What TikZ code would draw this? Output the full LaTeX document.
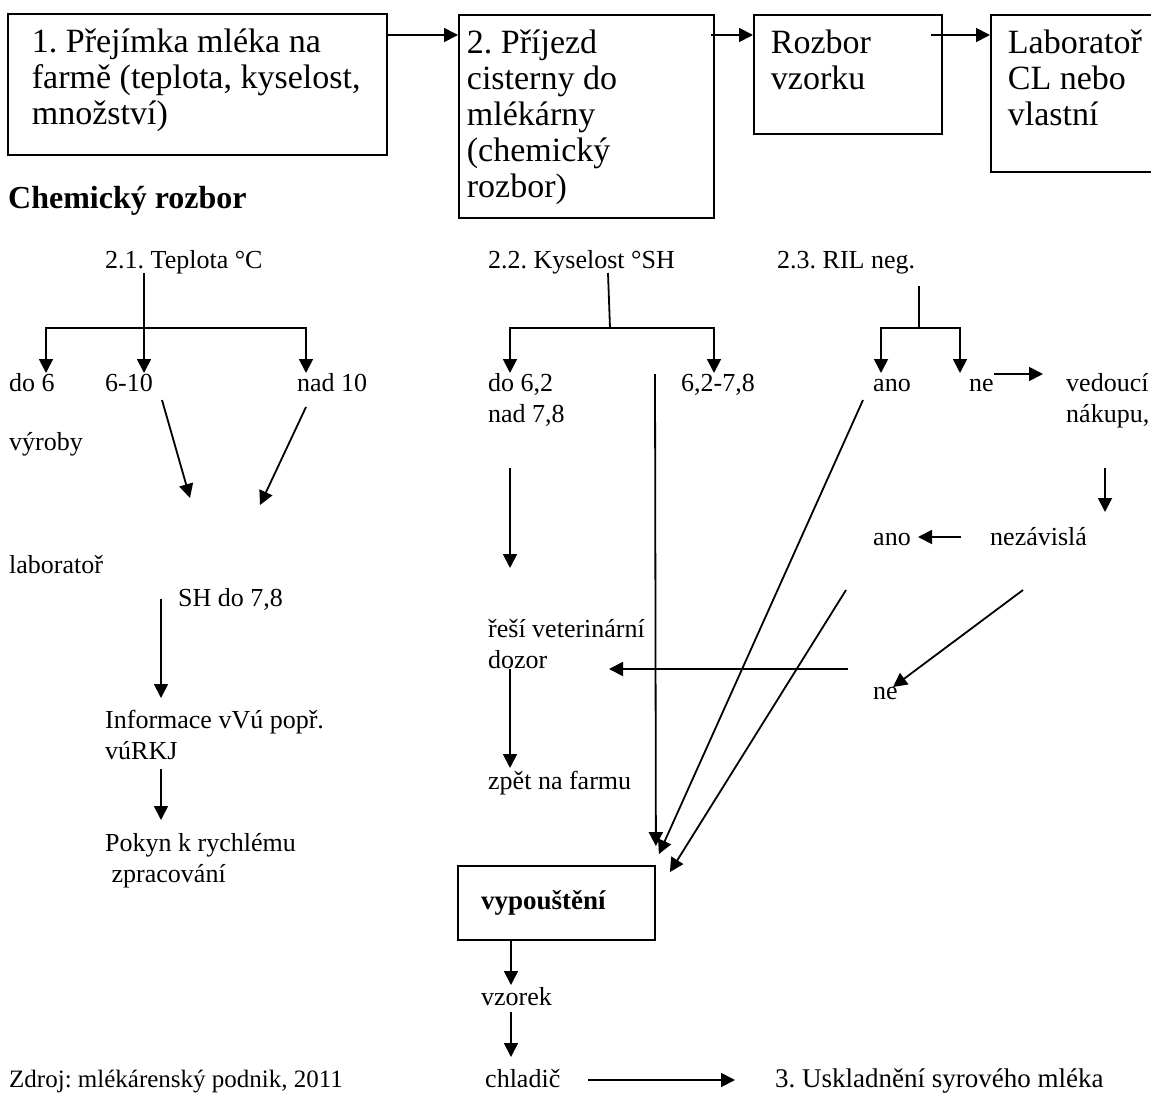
\documentclass[tikz,border=0pt]{standalone}
\usepackage{fontspec}
\setmainfont{Liberation Serif}
\frenchspacing
\usetikzlibrary{arrows.meta, positioning, calc}

\begin{document}
\begin{tikzpicture}[
    x=1pt, y=-1pt,
    box/.style={rectangle, draw, line width=1.8pt, anchor=north west, inner xsep=8pt, inner ysep=15pt, font=\fontsize{34}{36}\selectfont},
    txt/.style={anchor=base west, inner sep=0pt, align=left, font=\fontsize{26}{31}\selectfont},
    arr/.style={-{Triangle[length=14pt, width=14pt]}, line width=1.8pt},
    ln/.style={line width=1.8pt},
  ]
    \useasboundingbox (0,0) rectangle (1151,1100);

    \node[box, inner xsep=24pt] (prejimka) at (7,13) {\parbox[t][111pt][t]{331pt}{\raggedright 1. Přejímka mléka na\\farmě (teplota, kyselost,\\množství)}};
    \node[box] (prijezd) at (458,14) {\parbox[t][173pt][t]{239pt}{\raggedright 2. Příjezd\\cisterny do\\mlékárny\\(chemický\\rozbor)}};
    \node[box, inner xsep=17pt] (rozbor) at (753,14) {\parbox[t][89pt][t]{154pt}{\raggedright Rozbor\\vzorku}};
    \node[box, inner xsep=17pt] (lab) at (990,14) {\parbox[t][127pt][t]{146pt}{\raggedright Laboratoř\\CL nebo\\vlastní}};
    \draw[arr] ([yshift=-22pt]prejimka.north east) -- ([yshift=-21pt]prijezd.north west);
    \draw[arr] ([xshift=-4pt, yshift=-21pt]prijezd.north east) -- ([yshift=-21pt]rozbor.north west);
    \draw[arr] ([xshift=-12pt, yshift=-21pt]rozbor.north east) -- ([yshift=-21pt]lab.north west);

    \node[txt, font=\fontsize{32}{36}\selectfont\bfseries] (chem) at (8,208) {Chemický rozbor};

    % teplota
    \node[txt] (teplota) at (105,268) {2.1. Teplota °C};
    \node[txt] (do6) at (9,391) {do 6};
    \node[txt] (t610) at (105,391) {6-10};
    \node[txt] (nad10) at (297,391) {nad 10};
    \node[txt] (vyroby) at (9,450) {výroby};
    \node[txt] (labor) at (9,573) {laboratoř};
    \node[txt] (sh78) at (178,606) {SH do 7,8};
    \node[txt] (info) at (105,759) {Informace vVú popř.\\vúRKJ};
    \node[txt] (pokyn) at (105,882) {Pokyn k rychlému\\~zpracování};
    \coordinate (tTop) at (144,273);
    \coordinate (tBar) at (144,328);
    \draw[arr] (tTop) -- (144,373) coordinate (tB);
    \draw[arr] (tBar) -| (46,373) coordinate (tA);
    \draw[arr] (tBar) -| (306,373) coordinate (tC);
    \draw[arr] (162,400) coordinate (d1s) -- (190,498) coordinate (d1e);
    \draw[arr] (306,407) coordinate (d2s) -- (260,505) coordinate (d2e);
    \draw[arr] (161,599) coordinate (sh1) -- (161,698) coordinate (sh2);
    \draw[arr] (161,769) coordinate (inf1) -- (161,820) coordinate (inf2);

    % kyselost
    \node[txt] (kyselost) at (488,268) {2.2. Kyselost °SH};
    \node[txt] (do62) at (488,422) {do 6,2\\nad 7,8};
    \node[txt] (k6278) at (681,391) {6,2-7,8};
    \node[txt] (resi) at (488,668) {řeší veterinární\\dozor};
    \node[txt] (zpet) at (488,789) {zpět na farmu};
    \node[rectangle, draw, line width=1.8pt, minimum height=74pt, inner xsep=23pt, text width=151pt, align=left, font=\fontsize{27}{31}\selectfont\bfseries] (vyp) at (556.5,903) {vypouštění};
    \coordinate (kTop) at (608,273);
    \coordinate (kBar) at (610,328);
    \draw[ln] (kTop) -- (kBar);
    \draw[arr] (kBar) -| (510,373) coordinate (kA);
    \draw[arr] (kBar) -| (714,373) coordinate (kB);
    \draw[arr] (655,374) coordinate (kLong) -- ([yshift=19pt]vyp.north east);
    \draw[arr] (510,468) coordinate (kv1) -- (510,568) coordinate (kv2);
    \draw[arr] (510,669) coordinate (kv3) -- (510,768) coordinate (kv4);
    \draw[arr] (848,669) coordinate (neVet) -- (609,669) coordinate (vet);

    % RIL
    \node[txt] (ril) at (777,268) {2.3. RIL neg.};
    \node[txt] (ano1) at (873,391) {ano};
    \node[txt] (ne1) at (969,391) {ne};
    \node[txt] (vedouci) at (1066,422) {vedoucí\\nákupu,};
    \node[txt] (nezav) at (990,545) {nezávislá};
    \node[txt] (ano2) at (873,545) {ano};
    \node[txt] (ne2) at (873,699) {ne};
    \coordinate (rTop) at (919,286);
    \coordinate (rBar) at (919,328);
    \draw[ln] (rTop) -- (rBar);
    \draw[arr] (rBar) -| (881,373) coordinate (rA);
    \draw[arr] (rBar) -| (960,373) coordinate (rB);
    \draw[arr] (994,374) coordinate (neOut) -- (1043,374) coordinate (vedIn);
    \draw[arr] (1105,468) coordinate (ved1) -- (1105,512) coordinate (ved2);
    \draw[arr] (961,537) coordinate (nez1) -- (918,537) coordinate (nez2);
    \draw[arr] (1023,590) coordinate (nez3) -- (893,687) coordinate (nez4);
    \draw[arr] (863,400) coordinate (anoOut) -- ([shift={(3pt,11pt)}]vyp.north east);
    \draw[arr] (846,590) coordinate (anoOut2) -- ([shift={(14pt,-7pt)}]vyp.north east);

    % bottom
    \node[txt] (vzorek) at (481,1005) {vzorek};
    \node[txt] (chladic) at (485,1087) {chladič};
    \node[txt, font=\fontsize{27}{31}\selectfont] (uskl) at (775,1087) {3. Uskladnění syrového mléka};
    \node[txt, font=\fontsize{25}{31}\selectfont] (zdroj) at (9,1087) {Zdroj: mlékárenský podnik, 2011};
    \draw[arr] ([xshift=-45.5pt]vyp.south) -- (511,985) coordinate (vz1);
    \draw[arr] (511,1012) coordinate (vz2) -- (511,1057) coordinate (vz3);
    \draw[arr] (588,1080) coordinate (ch1) -- (735,1080) coordinate (ch2);
\end{tikzpicture}
\end{document}
